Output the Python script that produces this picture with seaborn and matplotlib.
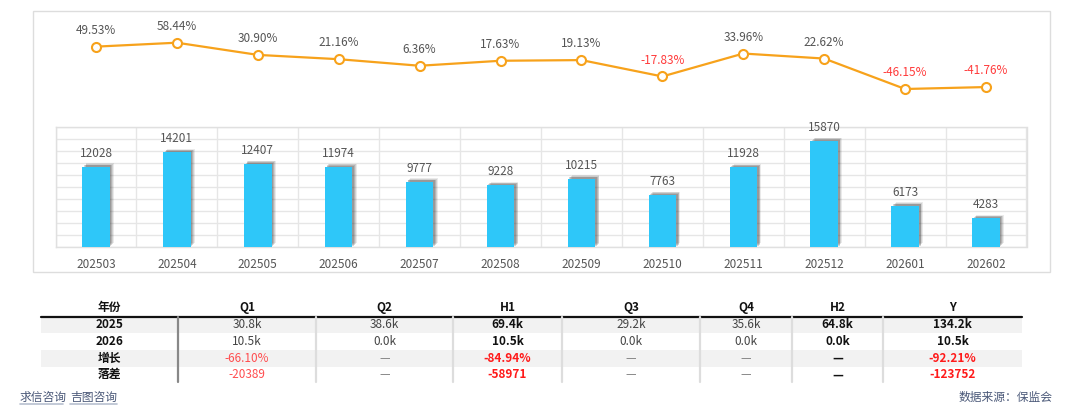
import numpy as np
import pandas as pd
import seaborn as sns
import matplotlib.pyplot as plt
import matplotlib.patheffects as pe
from matplotlib.patches import Rectangle

months = ['202503', '202504', '202505', '202506', '202507', '202508',
          '202509', '202510', '202511', '202512', '202601', '202602']
volumes = [12028, 14201, 12407, 11974, 9777, 9228, 10215, 7763, 11928, 15870, 6173, 4283]
growth = [49.53, 58.44, 30.90, 21.16, 6.36, 17.63, 19.13, -17.83, 33.96, 22.62, -46.15, -41.76]

table_cols = ['年份', 'Q1', 'Q2', 'H1', 'Q3', 'Q4', 'H2', 'Y']
row_names = ['2025', '2026', '增长', '落差']
row_2025 = ['30.8k', '38.6k', '69.4k', '29.2k', '35.6k', '64.8k', '134.2k']
row_2026 = ['10.5k', '0.0k', '10.5k', '0.0k', '0.0k', '0.0k', '10.5k']
row_growth = ['-66.10%', '—', '-84.94%', '—', '—', '—', '-92.21%']
row_gap = ['-20389', '—', '-58971', '—', '—', '—', '-123752']
bold_cols = ['H1', 'H2', 'Y']

sns.set_theme(style="white")
plt.rcParams['font.family'] = ['Noto Sans CJK SC', 'DejaVu Sans']

W, H = 1080, 412
fig = plt.figure(figsize=(W / 100, H / 100), dpi=100)


def px_axes(x0, y0, x1, y1):
    # pixel box (top-left origin) -> figure fraction
    return fig.add_axes([x0 / W, 1 - y1 / H, (x1 - x0) / W, (y1 - y0) / H])


# overlay for box, table and footer, in pixel coordinates
ov = fig.add_axes([0, 0, 1, 1])
ov.set_xlim(0, W)
ov.set_ylim(H, 0)
ov.axis('off')
ov.patch.set_alpha(0)
ov.add_patch(Rectangle((33, 11), 1017, 261, fill=False, ec='#dddddd', lw=1))

# bars
df = pd.DataFrame({'month': months, 'volume': volumes, 'growth': growth})
ax_bar = px_axes(55.5, 126.7, 1026.5, 246.7)
ax_bar.patch.set_alpha(0)
sns.barplot(data=df, x='month', y='volume', ax=ax_bar, color='#2ec7f9',
            saturation=1, width=0.34, linewidth=0, zorder=3)
# soft shadow: a few stacked faint offsets
shadow = []
for off, a in [((3.0, 2.4), 0.10), ((2.4, 1.8), 0.14), ((1.8, 1.3), 0.18), ((1.2, 0.8), 0.2)]:
    shadow.append(pe.SimplePatchShadow(offset=off, shadow_rgbFace='#333333', alpha=a))
for p in ax_bar.patches:
    p.set_linewidth(0)
    p.set_path_effects(shadow + [pe.Normal()])
ax_bar.bar_label(ax_bar.containers[0], padding=5, fontsize=8.5, color='#555555')
ax_bar.set_ylim(0, 18000)
ax_bar.set_yticks(np.arange(0, 18001, 1800))
ax_bar.set_xlim(-0.5, len(months) - 0.5)
ax_bar.set_xticks(np.arange(-0.5, len(months), 1), minor=True)
ax_bar.grid(True, axis='y', color='#e6e6e6', lw=1, zorder=0)
ax_bar.grid(True, axis='x', which='minor', color='#e6e6e6', lw=1, zorder=0)
ax_bar.tick_params(axis='y', labelleft=False, length=0)
ax_bar.tick_params(axis='x', which='both', length=0, pad=8, labelsize=8.5, labelcolor='#555555')
ax_bar.set_xlabel('')
ax_bar.set_ylabel('')
for s in ax_bar.spines.values():
    s.set_color('#e0e0e0')
    s.set_linewidth(1)

# growth line
ax_line = px_axes(55.5, 15, 1026.5, 105)
ax_line.patch.set_alpha(0)
xpos = np.arange(len(months))
sns.lineplot(x=xpos, y=growth, ax=ax_line, color='#f7a21b', lw=1.6, sort=False,
             marker='o', markersize=6.5, markerfacecolor='white',
             markeredgecolor='#f7a21b', markeredgewidth=1.5)
for xi, v in zip(xpos, growth):
    ax_line.annotate(f'{v:.2f}%', (xi, v), xytext=(0, 7), textcoords='offset points',
                     ha='center', va='bottom', fontsize=8.5,
                     color='#ff3b3b' if v < 0 else '#555555')
ax_line.set_xlim(-0.5, len(months) - 0.5)
ax_line.set_ylim(-82.3, 121.0)
ax_line.axis('off')

# table
bounds = [41, 178, 316, 453, 562, 700, 792, 883, 1022]
centers = [(a + b) / 2 for a, b in zip(bounds[:-1], bounds[1:])]
row_h = 16.7
top = 316.5
for i, name in enumerate(row_names):
    if i % 2 == 0:
        ov.add_patch(Rectangle((bounds[0], top + i * row_h), bounds[-1] - bounds[0], row_h,
                               fc='#f2f2f2', ec='none', zorder=1))
for c, t in zip(centers, table_cols):
    ov.text(c, 307.5, t, ha='center', va='center', fontsize=8.5, fontweight='bold', color='#111111')
ov.plot([bounds[0], bounds[-1]], [top, top], color='#111111', lw=1.6, zorder=3)
for j, b in enumerate(bounds[1:-1]):
    ov.plot([b, b], [top, top + 4 * row_h - 1], color='#888888' if j == 0 else '#dddddd',
            lw=1.6, zorder=3)

rows = [row_2025, row_2026, row_growth, row_gap]
for i, (name, vals) in enumerate(zip(row_names, rows)):
    yc = top + (i + 0.5) * row_h
    ov.text(centers[0], yc, name, ha='center', va='center', fontsize=8.5,
            fontweight='bold', color='#111111', zorder=4)
    for c, col, v in zip(centers[1:], table_cols[1:], vals):
        bold = col in bold_cols
        if v.startswith('-'):
            color = '#ff1a1a' if bold else '#ff4d4f'
        elif v == '—':
            color = '#111111' if bold else '#888888'
        else:
            color = '#111111' if bold else '#444444'
        ov.text(c, yc, v, ha='center', va='center', fontsize=8.5,
                fontweight='bold' if bold else 'normal', color=color, zorder=4)

# footer
for x0, x1, t in [(20, 63, '求信咨询'), (70, 117, '吉图咨询')]:
    ov.text(x0, 397, t, ha='left', va='center', fontsize=8.5, color='#4a5878')
    ov.plot([x0, x1], [404, 404], color='#b8c0d0', lw=1.2)
ov.text(1053, 397, '数据来源：保监会', ha='right', va='center', fontsize=8.5, color='#4a5878')

fig.savefig('out.png', dpi=100)
